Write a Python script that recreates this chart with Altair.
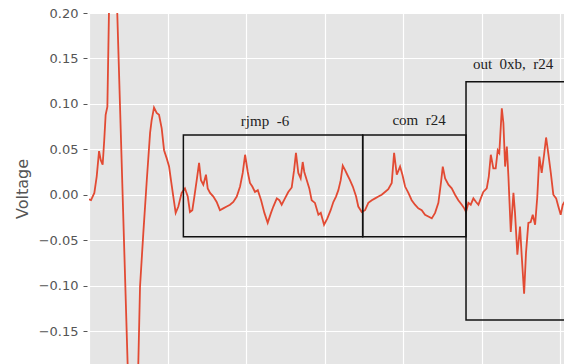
import altair as alt
import pandas as pd

# signal samples (x = sample index, y = voltage)
xs = [0, 1.3, 3.4, 4.9, 6.4, 7.5, 8.7, 9.7, 10.6, 11.7, 13.2, 15.5, 17.2, 18.0,
      24.6, 28.0, 31.4, 32.5, 34.6, 36.8, 38.9, 39.9, 41.4, 43.1, 44.6, 46.3,
      47.8, 49.5, 51.0, 52.2, 53.7, 55.2, 56.9, 59.0, 61.1, 62.9, 64.3, 65.8,
      67.1, 68.6, 70.1, 71.3, 72.8, 74.5, 75.6, 77.1, 79.2, 81.3, 83.4, 85.5,
      87.7, 89.8, 91.9, 94.1, 96.2, 97.9, 99.4, 101.1, 102.5, 104.0, 105.7,
      107.5, 109.6, 111.7, 113.8, 115.9, 117.4, 119.6, 121.2, 122.7, 124.8,
      126.9, 129.1, 130.6, 131.8, 133.3, 134.8, 136.1, 137.1, 138.7, 140.3,
      141.8, 143.9, 146.1, 147.6, 149.7, 151.8, 153.9, 155.6, 157.3, 158.8,
      160.3, 161.6, 163.1, 164.5, 166.2, 168.0, 170.1, 171.5, 173.7, 175.8,
      177.9, 180.1, 182.2, 184.3, 186.4, 188.5, 190.6, 192.8, 194.3, 196.0,
      198.1, 199.6, 201.3, 203.4, 205.5, 207.6, 209.7, 211.9, 214.0, 216.1,
      218.3, 220.4, 222.5, 224.2, 225.3, 226.8, 228.9, 231.0, 233.1, 235.2,
      237.4, 239.0, 240.1, 241.6, 243.1, 244.8, 246.5, 248.0, 249.5, 251.1,
      253.3, 254.6, 255.9, 257.5, 259.0, 260.3, 261.3, 262.9, 263.9, 265.0,
      266.1, 267.1, 268.6, 270.3, 271.3, 272.8, 274.5, 275.6, 277.1, 278.3,
      279.8, 281.3, 282.6, 284.1, 285.5, 286.8, 288.3, 289.8, 291.1, 292.6,
      294.1, 295.7, 297.5, 298.9, 300.4, 301.7, 303.8]
voltage = [-0.005, -0.006, 0.002, 0.020, 0.048, 0.038, 0.033, 0.060, 0.088, 0.097,
           0.25, 0.30, 0.25, 0.20,
           -0.186, -0.30, -0.186, -0.101, -0.042, 0.016, 0.068, 0.082, 0.096,
           0.090, 0.088, 0.073, 0.049, 0.040, 0.031, 0.016, -0.002, -0.020,
           -0.013, 0.002, 0.007, -0.002, -0.019, -0.017, -0.002, 0.016, 0.035,
           0.016, 0.011, 0.022, 0.007, 0.002, -0.002, -0.008, -0.017, -0.015,
           -0.013, -0.011, -0.008, -0.002, 0.009, 0.024, 0.044, 0.025, 0.013,
           0.009, 0.003, 0.005, -0.006, -0.020, -0.031, -0.020, -0.013, -0.004,
           -0.006, -0.011, -0.004, 0.003, 0.008, 0.027, 0.046, 0.024, 0.018,
           0.036, 0.025, 0.016, 0.007, -0.006, -0.009, -0.022, -0.020, -0.033,
           -0.026, -0.017, -0.008, -0.002, 0.005, 0.016, 0.032, 0.027, 0.022,
           0.016, 0.009, -0.002, -0.013, -0.019, -0.017, -0.009, -0.006, -0.004,
           -0.002, 0.000, 0.003, 0.006, 0.013, 0.046, 0.022, 0.031, 0.022, 0.009,
           0.002, -0.006, -0.011, -0.015, -0.017, -0.022, -0.024, -0.026, -0.020,
           -0.009, 0.014, 0.031, 0.018, 0.011, 0.007, 0.000, -0.006, -0.011,
           -0.015, -0.019, -0.009, -0.011, -0.004, -0.008, -0.011, -0.004, 0.003,
           0.007, 0.020, 0.044, 0.029, 0.029, 0.049, 0.046, 0.095, 0.079, 0.031,
           0.053, 0.020, -0.041, 0.002, -0.020, -0.066, -0.035, -0.068, -0.109,
           -0.064, -0.031, -0.030, -0.022, -0.033, -0.002, 0.042, 0.024, 0.044,
           0.063, 0.044, 0.024, 0.000, -0.004, -0.013, -0.022, -0.011, -0.005]

# instruction boxes
box_labels = ["rjmp\u00a0\u00a0-6", "com\u00a0\u00a0r24", "out\u00a0\u00a00xb,\u00a0\u00a0r24"]
box_x1 = [60.1, 174.3, 240.1]
box_x2 = [174.3, 240.1, 330.0]
box_y1 = [-0.0462, -0.0462, -0.138]
box_y2 = [0.0657, 0.0657, 0.1244]
label_x = [112.1, 210.2, 270.1]
label_y = [0.0811, 0.0822, 0.1439]

X_DOMAIN = [0, 302.5]
Y_DOMAIN = [-0.1863, 0.20]

sig = pd.DataFrame({"x": xs, "v": voltage})
boxes = pd.DataFrame({"x1": box_x1, "x2": box_x2, "y1": box_y1, "y2": box_y2,
                      "lx": label_x, "ly": label_y, "label": box_labels})

xscale = alt.Scale(domain=X_DOMAIN, nice=False, zero=False)
yscale = alt.Scale(domain=Y_DOMAIN, nice=False, zero=False)

xaxis = alt.Axis(values=[0, 50, 100, 150, 200, 250, 300], labels=False, ticks=False,
                 domain=False, grid=True, gridColor="white", gridWidth=1.2, title=None)
yaxis = alt.Axis(values=[-0.15, -0.10, -0.05, 0.0, 0.05, 0.10, 0.15, 0.20], format=".2f",
                 grid=True, gridColor="white", gridWidth=1.2, domain=False,
                 tickColor="#555555", tickSize=4, tickWidth=1, offset=2,
                 labelColor="#555555", labelFontSize=13, labelFont="DejaVu Sans",
                 labelPadding=5, title="Voltage", titleColor="#555555",
                 titleFontSize=16, titleFont="DejaVu Sans", titleFontWeight="normal",
                 titlePadding=8)

line = alt.Chart(sig).mark_line(color="#E24A33", strokeWidth=1.8, clip=True).encode(
    x=alt.X("x:Q", scale=xscale, axis=xaxis),
    y=alt.Y("v:Q", scale=yscale, axis=yaxis),
)

rects = alt.Chart(boxes).mark_rect(fill=None, stroke="#111111", strokeWidth=1.5,
                                   clip=True).encode(
    x=alt.X("x1:Q", scale=xscale),
    x2="x2",
    y=alt.Y("y1:Q", scale=yscale),
    y2="y2",
)

texts = alt.Chart(boxes).mark_text(font="Liberation Serif", fontSize=15, color="#222222",
                                   baseline="middle", align="center").encode(
    x=alt.X("lx:Q", scale=xscale),
    y=alt.Y("ly:Q", scale=yscale),
    text="label:N",
)

chart = alt.layer(line, rects, texts).properties(
    width=475, height=351,
    padding={"left": 89, "top": 13, "right": 0, "bottom": 0},
    autosize=alt.AutoSizeParams(type="none"),
    background="white",
).configure_view(fill="#E5E5E5", stroke=None)

chart.save("out.html", embed_options={"renderer": "svg", "actions": False})
